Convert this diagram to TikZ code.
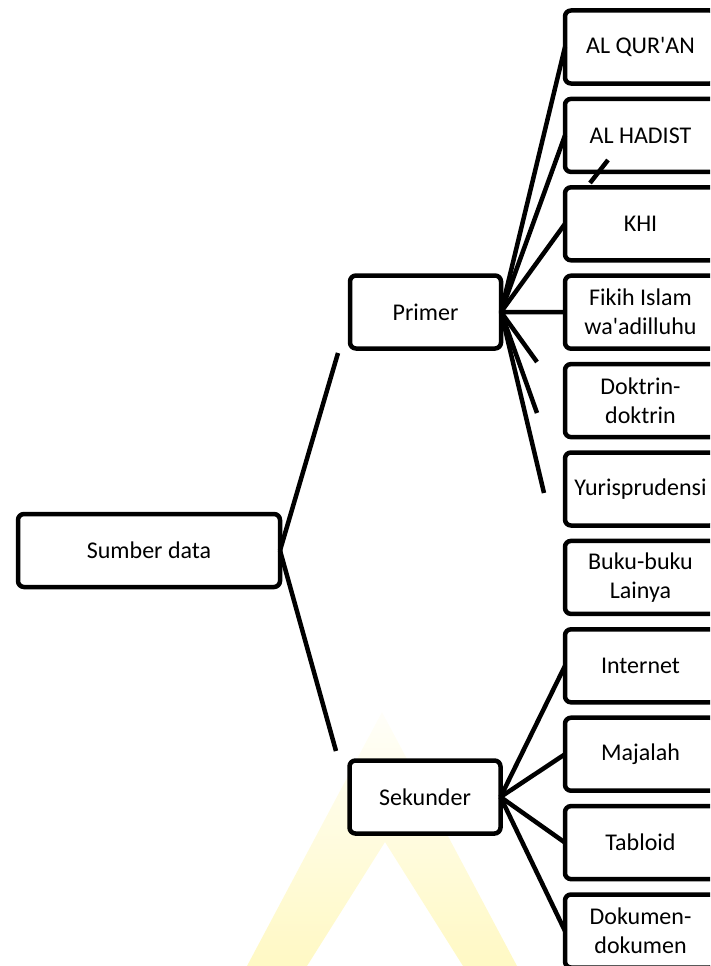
\documentclass[tikz,border=0pt]{standalone}
\usepackage{fontspec}
\setmainfont{Carlito}
\usetikzlibrary{positioning}
\definecolor{wmyellow}{RGB}{255,238,100}

\begin{document}
\begin{tikzpicture}[x=1pt, y=-1pt,
        box/.style={draw, line width=4.5pt, rounded corners=6pt, fill=white, outer sep=0pt,
            minimum width=151pt, minimum height=73pt, inner sep=2pt, align=center,
            font=\fontsize{24}{29}\selectfont},
        link/.style={line width=4.5pt}]
        \useasboundingbox (0,0) rectangle (710,966);
        \clip (0,0) rectangle (710,966);
        % faint watermark
        \shade[top color=wmyellow!4, bottom color=wmyellow!38, even odd rule]
            (382,712) -- (247,966) -- (517,966) -- cycle
            (385,842) -- (307,966) -- (463,966) -- cycle;

        \node[box, minimum width=262pt, minimum height=73pt] (sumber) at (149,550.5) {Sumber data};
        \node[box] (primer) at (425.5,312) {Primer};
        \node[box] (sekunder) at (425,797) {Sekunder};

        \node[box] (quran) at (640.5,47) {AL QUR\textquotesingle AN};
        \node[box, below=15.4pt of quran] (hadist) {AL HADIST};
        \node[box, below=15.4pt of hadist] (khi) {KHI};
        \node[box, below=15.4pt of khi] (fikih) {Fikih Islam\\wa\textquotesingle adilluhu};
        \node[box, below=15.4pt of fikih] (doktrin) {Doktrin-\\doktrin};
        \node[box, below=15.4pt of doktrin] (yuris) {Yurisprudensi};
        \node[box, below=15.4pt of yuris] (buku) {Buku-buku\\Lainya};
        \node[box, below=15.4pt of buku] (internet) {Internet};
        \node[box, below=15.4pt of internet] (majalah) {Majalah};
        \node[box, below=15.4pt of majalah] (tabloid) {Tabloid};
        \node[box, below=15.4pt of tabloid] (dokumen) {Dokumen-\\dokumen};

        \coordinate (toprimer) at (338,353);
        \coordinate (tosekunder) at (336,751);
        \coordinate (stubA) at (537,362);
        \coordinate (stubB) at (537,413);
        \coordinate (stubC) at (544,493);
        \coordinate (strayA) at (590,183);
        \coordinate (strayB) at (608,160);

        \draw[link] (sumber.east) -- (toprimer);
        \draw[link] (sumber.east) -- (tosekunder);
        \draw[link] (primer.east) -- (quran.west);
        \draw[link] (primer.east) -- (hadist.west);
        \draw[link] (primer.east) -- (khi.west);
        \draw[link] (primer.east) -- (fikih.west);
        \draw[link] (primer.east) -- (stubA);
        \draw[link] (primer.east) -- (stubB);
        \draw[link] (primer.east) -- (stubC);
        \draw[link] (strayA) -- (strayB);
        \draw[link] (sekunder.east) -- (internet.west);
        \draw[link] (sekunder.east) -- (majalah.west);
        \draw[link] (sekunder.east) -- (tabloid.west);
        \draw[link] (sekunder.east) -- (dokumen.west);
    \end{tikzpicture}
\end{document}
